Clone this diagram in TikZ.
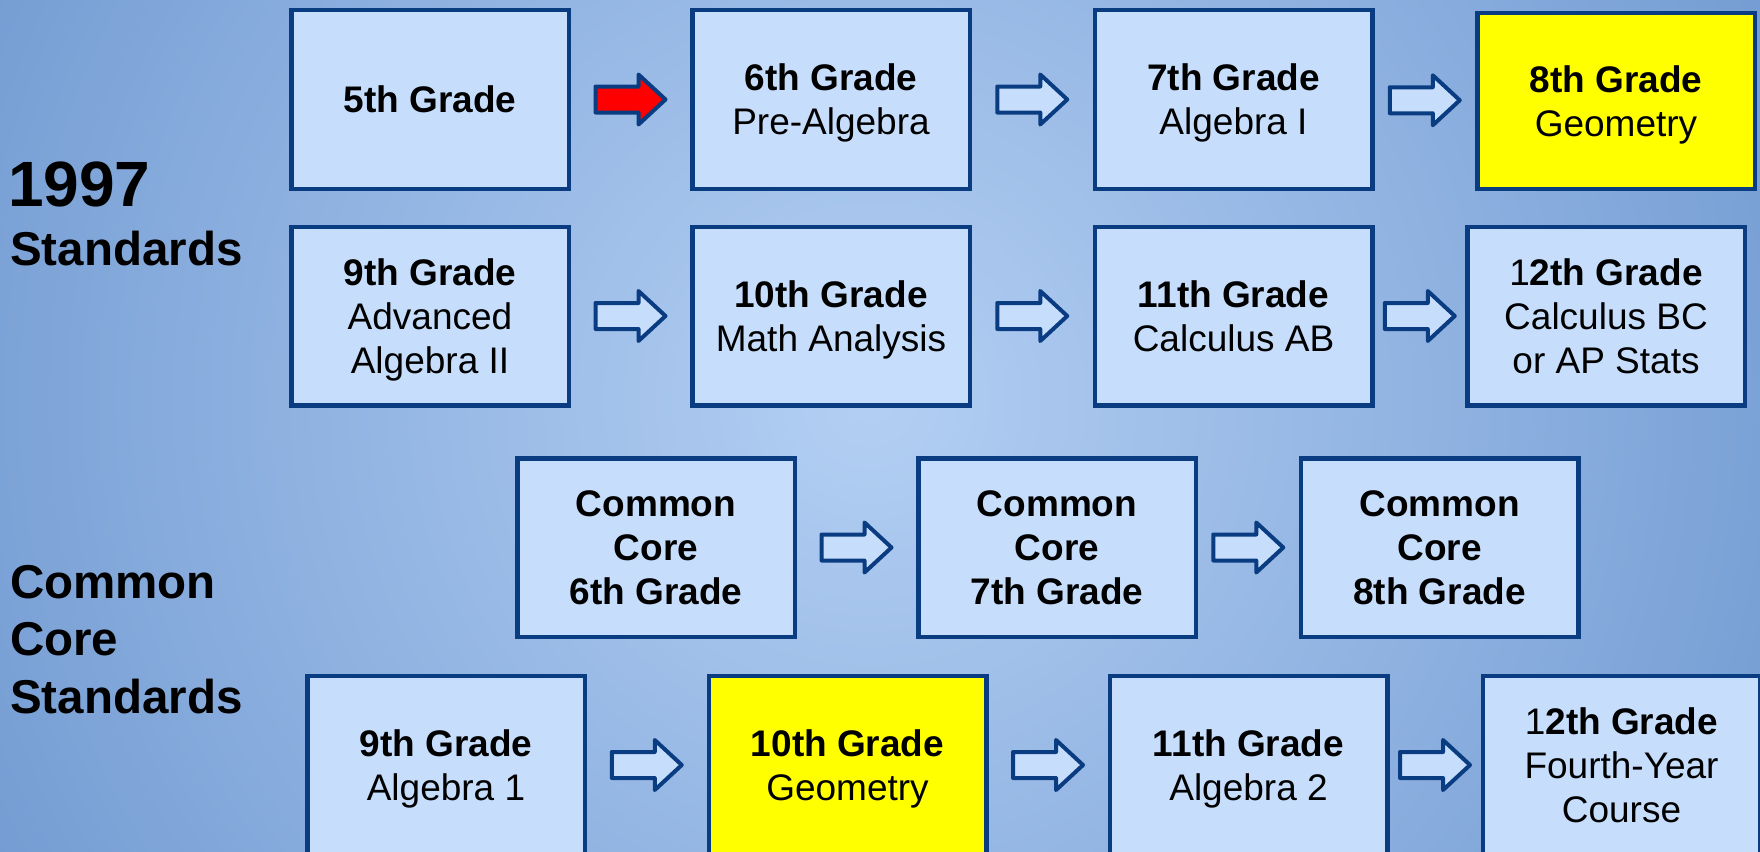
\documentclass[tikz,border=0pt]{standalone}
\usepackage{fontspec}
\setmainfont{Liberation Sans}
\usetikzlibrary{calc}
\definecolor{bgin}{HTML}{B3CFF3}
\definecolor{bgout}{HTML}{6590CB}
\definecolor{boxfill}{HTML}{C6DEFC}
\definecolor{boxline}{HTML}{0A3C82}
\definecolor{hiyellow}{HTML}{FFFF00}
\definecolor{hired}{HTML}{FF0000}
\pgfdeclareradialshading{bgshade}{\pgfpoint{0bp}{0bp}}{color(0bp)=(bgin); color(31bp)=(bgout); color(50bp)=(bgout)}
\newcommand\nodp[1]{\raisebox{0pt}[\height][0pt]{#1}}
\begin{document}
\begin{tikzpicture}[x=1pt,y=-1pt,
  grade/.style={draw=boxline, fill=boxfill, line width=4.5pt, minimum width=277.5pt,
    minimum height=178.5pt, inner sep=0pt, align=center, font=\fontsize{37}{44}\selectfont},
  boldgrade/.style={grade, font=\bfseries\fontsize{37}{44}\selectfont},
  hi/.style={fill=hiyellow},
  side/.style={anchor=base west, inner sep=0pt, font=\bfseries\fontsize{47.5}{57}\selectfont},
  barrow/.pic={\path[draw=boxline, line width=4pt, line join=round, pic actions]
    (-35,-13) -- (8,-13) -- (8,-25) -- (35,0) -- (8,25) -- (8,13) -- (-35,13) -- cycle;},
]
\useasboundingbox (0,0) rectangle (1760,851);
\begin{scope}
\clip (0,0) rectangle (1760,851);
\fill[bgout] (0,0) rectangle (1760,851);
\shade[shading=bgshade] (-130,-600) rectangle (1870,1400);

% left labels
\node[side, font=\bfseries\fontsize{64}{70}\selectfont] (y1997) at (8,206) {1997};
\node[side] (s1) at (10,265) {Standards};
\node[side] (cc1) at (10,598) {Common};
\node[side] (cc2) at (10,655) {Core};
\node[side] (cc3) at (10,713) {Standards};

% row 1
\node[grade] (g5) at (430,99.5) {\textbf{\nodp{5th Grade}}};
\node[grade] (g6) at (831,99.5) {\textbf{6th Grade}\\\nodp{Pre-Algebra}};
\node[grade] (g7) at (1233.5,99.5) {\textbf{7th Grade}\\\nodp{Algebra I}};
\node[grade, hi, minimum height=176pt] (g8) at (1616,101) {\textbf{8th Grade}\\\nodp{Geometry}};
% row 2
\node[grade] (g9) at (430,316) {\textbf{9th Grade}\\Advanced\\\nodp{Algebra II}};
\node[grade] (g10) at (831,316) {\textbf{10th Grade}\\\nodp{Math Analysis}};
\node[grade] (g11) at (1233.5,316) {\textbf{11th Grade}\\\nodp{Calculus AB}};
\node[grade] (g12) at (1606,316) {\textbf{{\mdseries 1}2th Grade}\\Calculus BC\\\nodp{or AP Stats}};
% row 3
\node[boldgrade] (c6) at (656,547.5) {Common\\Core\\\nodp{6th Grade}};
\node[boldgrade] (c7) at (1057,547.5) {Common\\Core\\\nodp{7th Grade}};
\node[boldgrade] (c8) at (1439.5,547.5) {Common\\Core\\\nodp{8th Grade}};
% row 4
\node[grade] (n9) at (446,765) {\textbf{9th Grade}\\\nodp{Algebra 1}};
\node[grade, hi] (n10) at (847.5,765) {\textbf{10th Grade}\\\nodp{Geometry}};
\node[grade] (n11) at (1248.5,765) {\textbf{11th Grade}\\\nodp{Algebra 2}};
\node[grade] (n12) at (1621.5,765) {\textbf{{\mdseries 1}2th Grade}\\Fourth-Year\\\nodp{Course}};

% arrows
\pic[fill=hired] at ($(g5.east)!0.5!(g6.west)$) {barrow};
\pic[fill=boxfill] at ($(g6.east)!0.5!(g7.west)$) {barrow};
\pic[fill=boxfill] at ($(g7.east)!0.5!(g8.west)$) {barrow};
\pic[fill=boxfill] at ($(g9.east)!0.5!(g10.west)$) {barrow};
\pic[fill=boxfill] at ($(g10.east)!0.5!(g11.west)$) {barrow};
\pic[fill=boxfill] at ($(g11.east)!0.5!(g12.west)$) {barrow};
\pic[fill=boxfill] at ($(c6.east)!0.5!(c7.west)$) {barrow};
\pic[fill=boxfill] at ($(c7.east)!0.5!(c8.west)$) {barrow};
\pic[fill=boxfill] at ($(n9.east)!0.5!(n10.west)$) {barrow};
\pic[fill=boxfill] at ($(n10.east)!0.5!(n11.west)$) {barrow};
\pic[fill=boxfill] at ($(n11.east)!0.5!(n12.west)$) {barrow};
\end{scope}
\end{tikzpicture}
\end{document}
